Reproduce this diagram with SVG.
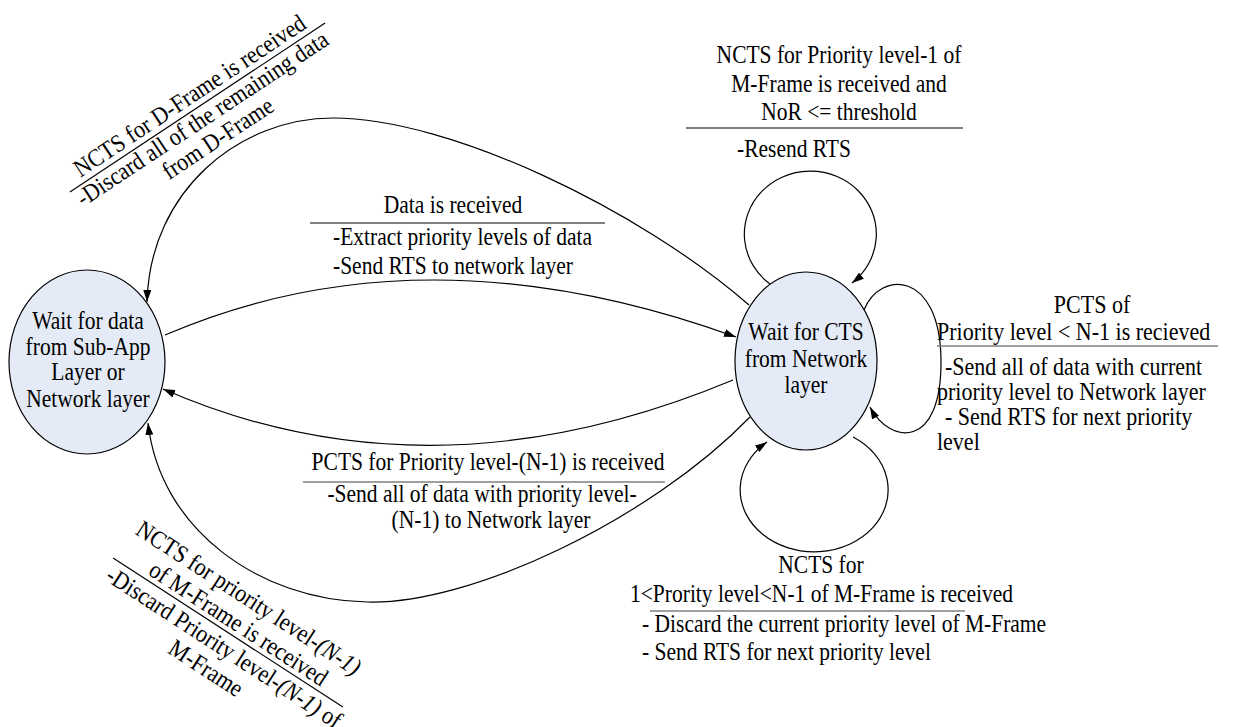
<svg xmlns="http://www.w3.org/2000/svg" width="1233" height="727" viewBox="0 0 1233 727">
<style>
.t{font-family:"Liberation Serif","Times New Roman",serif;font-size:21.5px;fill:#000}
.s22{font-size:22px}
.c{text-anchor:middle}
.nd{fill:#E4EBF6;stroke:#000;stroke-width:1.2}
.edge{fill:none;stroke:#000;stroke-width:1.2;marker-end:url(#ah)}
.rule{stroke:#000;stroke-width:1.2}
.rule2{stroke:#7f7f7f;stroke-width:1.6}
</style>
<defs>
<marker id="ah" viewBox="0 0 12 8" refX="12" refY="4" markerWidth="12" markerHeight="8" markerUnits="userSpaceOnUse" orient="auto">
<path d="M0,0 L12,4 L0,8 z" fill="#000"/>
</marker>
</defs>
<rect width="1233" height="727" fill="#fff"/>

<g id="connectors">
<path class="edge" d="M165,335 Q423,224 736,337"/>
<path class="edge" d="M733,380 Q431,506 163,389"/>
<path class="edge" d="M749,305 C640,210 450,118 333,118 C240,118 150,190 147,302"/>
<path class="edge" d="M750,417 C650,520 470,605 367,602 C260,600 160,530 148,423"/>
<path class="edge" d="M770,284 A66,63 0 1 1 852,283"/>
<path class="edge" d="M864,310 C880,270 940,270 941,360 C942,450 890,445 870,407"/>
<path class="edge" d="M853,437 A74,62 0 1 1 767,442"/>
</g>

<g id="node-subapp">
<ellipse class="nd" cx="87" cy="362" rx="78" ry="92"/>
<text class="t c" transform="translate(88,329) scale(1,1.13)">Wait for data</text>
<text class="t c" transform="translate(88,355) scale(1,1.13)">from Sub-App</text>
<text class="t c" transform="translate(88,380) scale(1,1.13)">Layer or</text>
<text class="t c" transform="translate(88,407) scale(1,1.13)">Network layer</text>
</g>

<g id="node-cts">
<ellipse class="nd" cx="806" cy="361" rx="71" ry="89"/>
<text class="t c" transform="translate(806,340) scale(1,1.13)">Wait for CTS</text>
<text class="t c" transform="translate(806,367) scale(1,1.13)">from Network</text>
<text class="t c" transform="translate(806,393) scale(1,1.13)">layer</text>
</g>

<g id="label-data">
<text class="t c" transform="translate(453,213) scale(1,1.13)">Data is received</text>
<line class="rule" x1="310" y1="223" x2="605" y2="223"/>
<text class="t" transform="translate(333,245) scale(1,1.13)">-Extract priority levels of data</text>
<text class="t" transform="translate(333,274) scale(1,1.13)">-Send RTS to network layer</text>
</g>

<g id="label-pcts-n1">
<text class="t c" transform="translate(488,470) scale(1,1.13)">PCTS for Priority level-(N-1) is received</text>
<line class="rule2" x1="303" y1="482" x2="665" y2="482"/>
<text class="t c" transform="translate(482,502) scale(1,1.13)">-Send all of data with priority level-</text>
<text class="t c" transform="translate(491,528) scale(1,1.13)">(N-1) to Network layer</text>
</g>

<g id="label-resend">
<text class="t c" transform="translate(839,63) scale(1,1.13)">NCTS for Priority level-1 of</text>
<text class="t c" transform="translate(839,92) scale(1,1.13)">M-Frame is received and</text>
<text class="t c" transform="translate(839,120) scale(1,1.13)">NoR &lt;= threshold</text>
<line class="rule" x1="686" y1="128" x2="963" y2="128"/>
<text class="t" transform="translate(737,157) scale(1,1.13)">-Resend RTS</text>
</g>

<g id="label-pcts-of">
<text class="t s22 c" transform="translate(1092,313) scale(1,1.13)">PCTS of</text>
<text class="t s22" transform="translate(937,340) scale(1,1.13)">Priority level &lt; N-1 is recieved</text>
<line class="rule2" x1="937" y1="346" x2="1218" y2="346"/>
<text class="t s22" transform="translate(945,375) scale(1,1.13)">-Send all of data with current</text>
<text class="t s22" transform="translate(937,400) scale(1,1.13)">priority level to Network layer</text>
<text class="t s22" transform="translate(945,425) scale(1,1.13)">- Send RTS for next priority</text>
<text class="t s22" transform="translate(937,450) scale(1,1.13)">level</text>
</g>

<g id="label-mid-priority">
<text class="t c" transform="translate(821,573) scale(1,1.13)">NCTS for</text>
<text class="t" transform="translate(630,602) scale(1,1.13)">1&lt;Prority level&lt;N-1 of M-Frame is received</text>
<line class="rule2" x1="650" y1="611" x2="965" y2="611"/>
<text class="t" transform="translate(642,632) scale(1,1.13)">- Discard the current priority level of M-Frame</text>
<text class="t" transform="translate(642,660) scale(1,1.13)">- Send RTS for next priority level</text>
</g>

<g id="label-dframe" transform="translate(197.5,107.5) rotate(-33.5)">
<text class="t s22 c" transform="translate(0,-6) scale(1,1.13)">NCTS for D-Frame is received</text>
<line class="rule" x1="-153" y1="0" x2="153" y2="0"/>
<text class="t s22 c" transform="translate(-2,20) scale(1,1.13)">-Discard all of the remaining data</text>
<text class="t s22 c" transform="translate(0,45) scale(1,1.13)">from D-Frame</text>
</g>

<g id="label-mframe-n1" transform="translate(228,632.5) rotate(33)">
<text class="t s22 c" transform="translate(-1.5,-32) scale(1,1.13)">NCTS for priority level-<tspan font-style="italic">(N-1)</tspan></text>
<text class="t s22 c" transform="translate(4,-5) scale(1,1.13)">of M-Frame is received</text>
<line class="rule" x1="-137" y1="0" x2="137" y2="0"/>
<text class="t s22 c" transform="translate(5,23) scale(1,1.13)">-Discard Priority level-<tspan font-style="italic">(N-1)</tspan> of</text>
<text class="t s22 c" transform="translate(1,50) scale(1,1.13)">M-Frame</text>
</g>
</svg>
